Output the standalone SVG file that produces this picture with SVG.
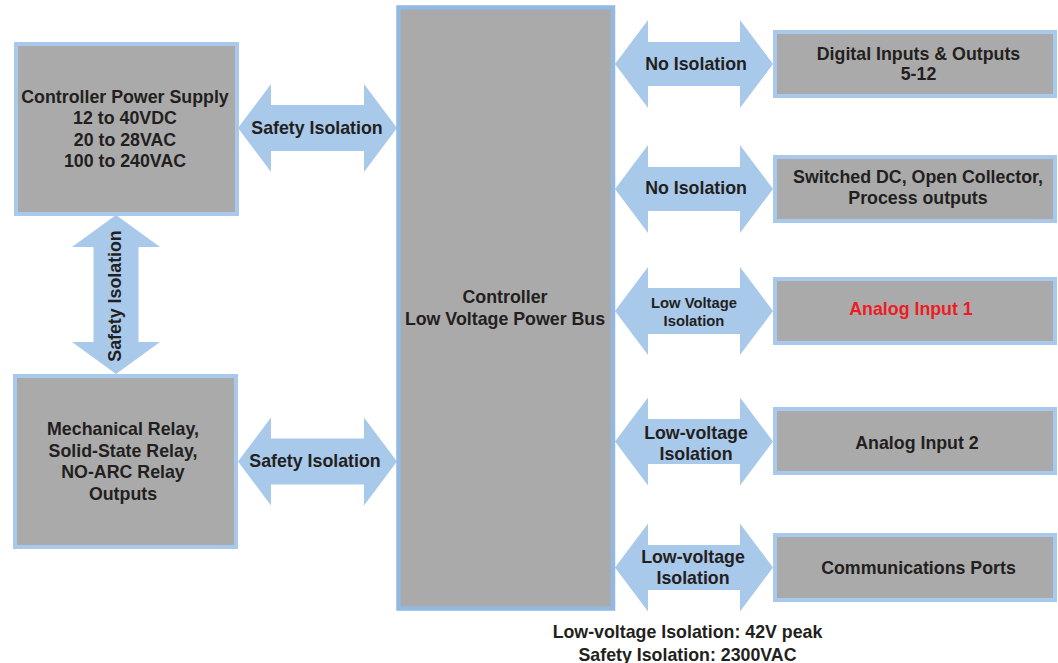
<svg xmlns="http://www.w3.org/2000/svg" width="1058" height="663" viewBox="0 0 1058 663">
<style>
.box{fill:#aaaaaa;stroke:#a9c9ec;stroke-width:4}
.bus{fill:#aaaaaa;stroke:#93b8e2;stroke-width:4.5}
.arr{fill:#a9c9ea}
text{font-family:"Liberation Sans",Arial,Helvetica,sans-serif;font-weight:bold;font-size:17.8px;fill:#231f20;text-anchor:middle}
.sm{font-size:14.8px}
.red{fill:#ed1c24}
</style>
<rect width="1058" height="663" fill="#ffffff"/>
<g id="connectors">
  <polygon class="arr" points="238,128 271,84 271,105 364,105 364,84 397,128 364,172 364,151 271,151 271,172"/>
  <polygon class="arr" points="238,461.5 271,417.5 271,438.5 364,438.5 364,417.5 397,461.5 364,505.5 364,484.5 271,484.5 271,505.5"/>
  <polygon class="arr" points="116,215 160,247 138.5,247 138.5,342 160,342 116,374 72,342 93.5,342 93.5,247 72,247"/>
  <polygon class="arr" points="615,64 648,20 648,42 740,42 740,20 773,64 740,108 740,86 648,86 648,108"/>
  <polygon class="arr" points="615,189 648,145 648,167 740,167 740,145 773,189 740,233 740,211 648,211 648,233"/>
  <polygon class="arr" points="615,311 648,267 648,288 740,288 740,267 773,311 740,355 740,334 648,334 648,355"/>
  <polygon class="arr" points="615,441.5 648,397.5 648,419 740,419 740,397.5 773,441.5 740,485.5 740,464 648,464 648,485.5"/>
  <polygon class="arr" points="615,567.5 648,523.5 648,545 740,545 740,523.5 773,567.5 740,611.5 740,590 648,590 648,611.5"/>
  <text x="317" y="133.5">Safety Isolation</text>
  <text x="315" y="466.5">Safety Isolation</text>
  <text transform="translate(121,296) rotate(-90)">Safety Isolation</text>
  <text x="696" y="70">No Isolation</text>
  <text x="696" y="194">No Isolation</text>
  <text class="sm" x="694" y="307.5">Low Voltage</text>
  <text class="sm" x="694" y="325.7">Isolation</text>
  <text x="696" y="438.5">Low-voltage</text>
  <text x="696" y="460">Isolation</text>
  <text x="693" y="562.5">Low-voltage</text>
  <text x="693" y="583.5">Isolation</text>
</g>
<g id="power-supply">
  <rect class="box" x="16" y="44" width="221" height="170"/>
  <text x="125" y="103">Controller Power Supply</text>
  <text x="125" y="124">12 to 40VDC</text>
  <text x="125" y="145.5">20 to 28VAC</text>
  <text x="125" y="167">100 to 240VAC</text>
</g>
<g id="relay-outputs">
  <rect class="box" x="15" y="376" width="221" height="171"/>
  <text x="123" y="435">Mechanical Relay,</text>
  <text x="123" y="456.7">Solid-State Relay,</text>
  <text x="123" y="478.3">NO-ARC Relay</text>
  <text x="123" y="500">Outputs</text>
</g>
<g id="controller-bus">
  <rect class="bus" x="398.5" y="7.5" width="214.5" height="601"/>
  <text x="505" y="303">Controller</text>
  <text x="505" y="325">Low Voltage Power Bus</text>
</g>
<g id="digital-io">
  <rect class="box" x="775" y="32" width="280" height="64"/>
  <text x="918.5" y="59.5">Digital Inputs &amp; Outputs</text>
  <text x="918.5" y="80">5-12</text>
</g>
<g id="switched-dc">
  <rect class="box" x="775" y="157" width="280" height="64"/>
  <text x="918" y="182.5">Switched DC, Open Collector,</text>
  <text x="918" y="204">Process outputs</text>
</g>
<g id="analog-input-1">
  <rect class="box" x="775" y="279" width="280" height="64"/>
  <text class="red" x="911" y="315">Analog Input 1</text>
</g>
<g id="analog-input-2">
  <rect class="box" x="775" y="409" width="280" height="64"/>
  <text x="917" y="449">Analog Input 2</text>
</g>
<g id="comm-ports">
  <rect class="box" x="775" y="535" width="280" height="65"/>
  <text x="918.5" y="573.5">Communications Ports</text>
</g>
<g id="note">
  <text x="687.5" y="638">Low-voltage Isolation: 42V peak</text>
  <text x="687.5" y="661">Safety Isolation: 2300VAC</text>
</g>
</svg>
